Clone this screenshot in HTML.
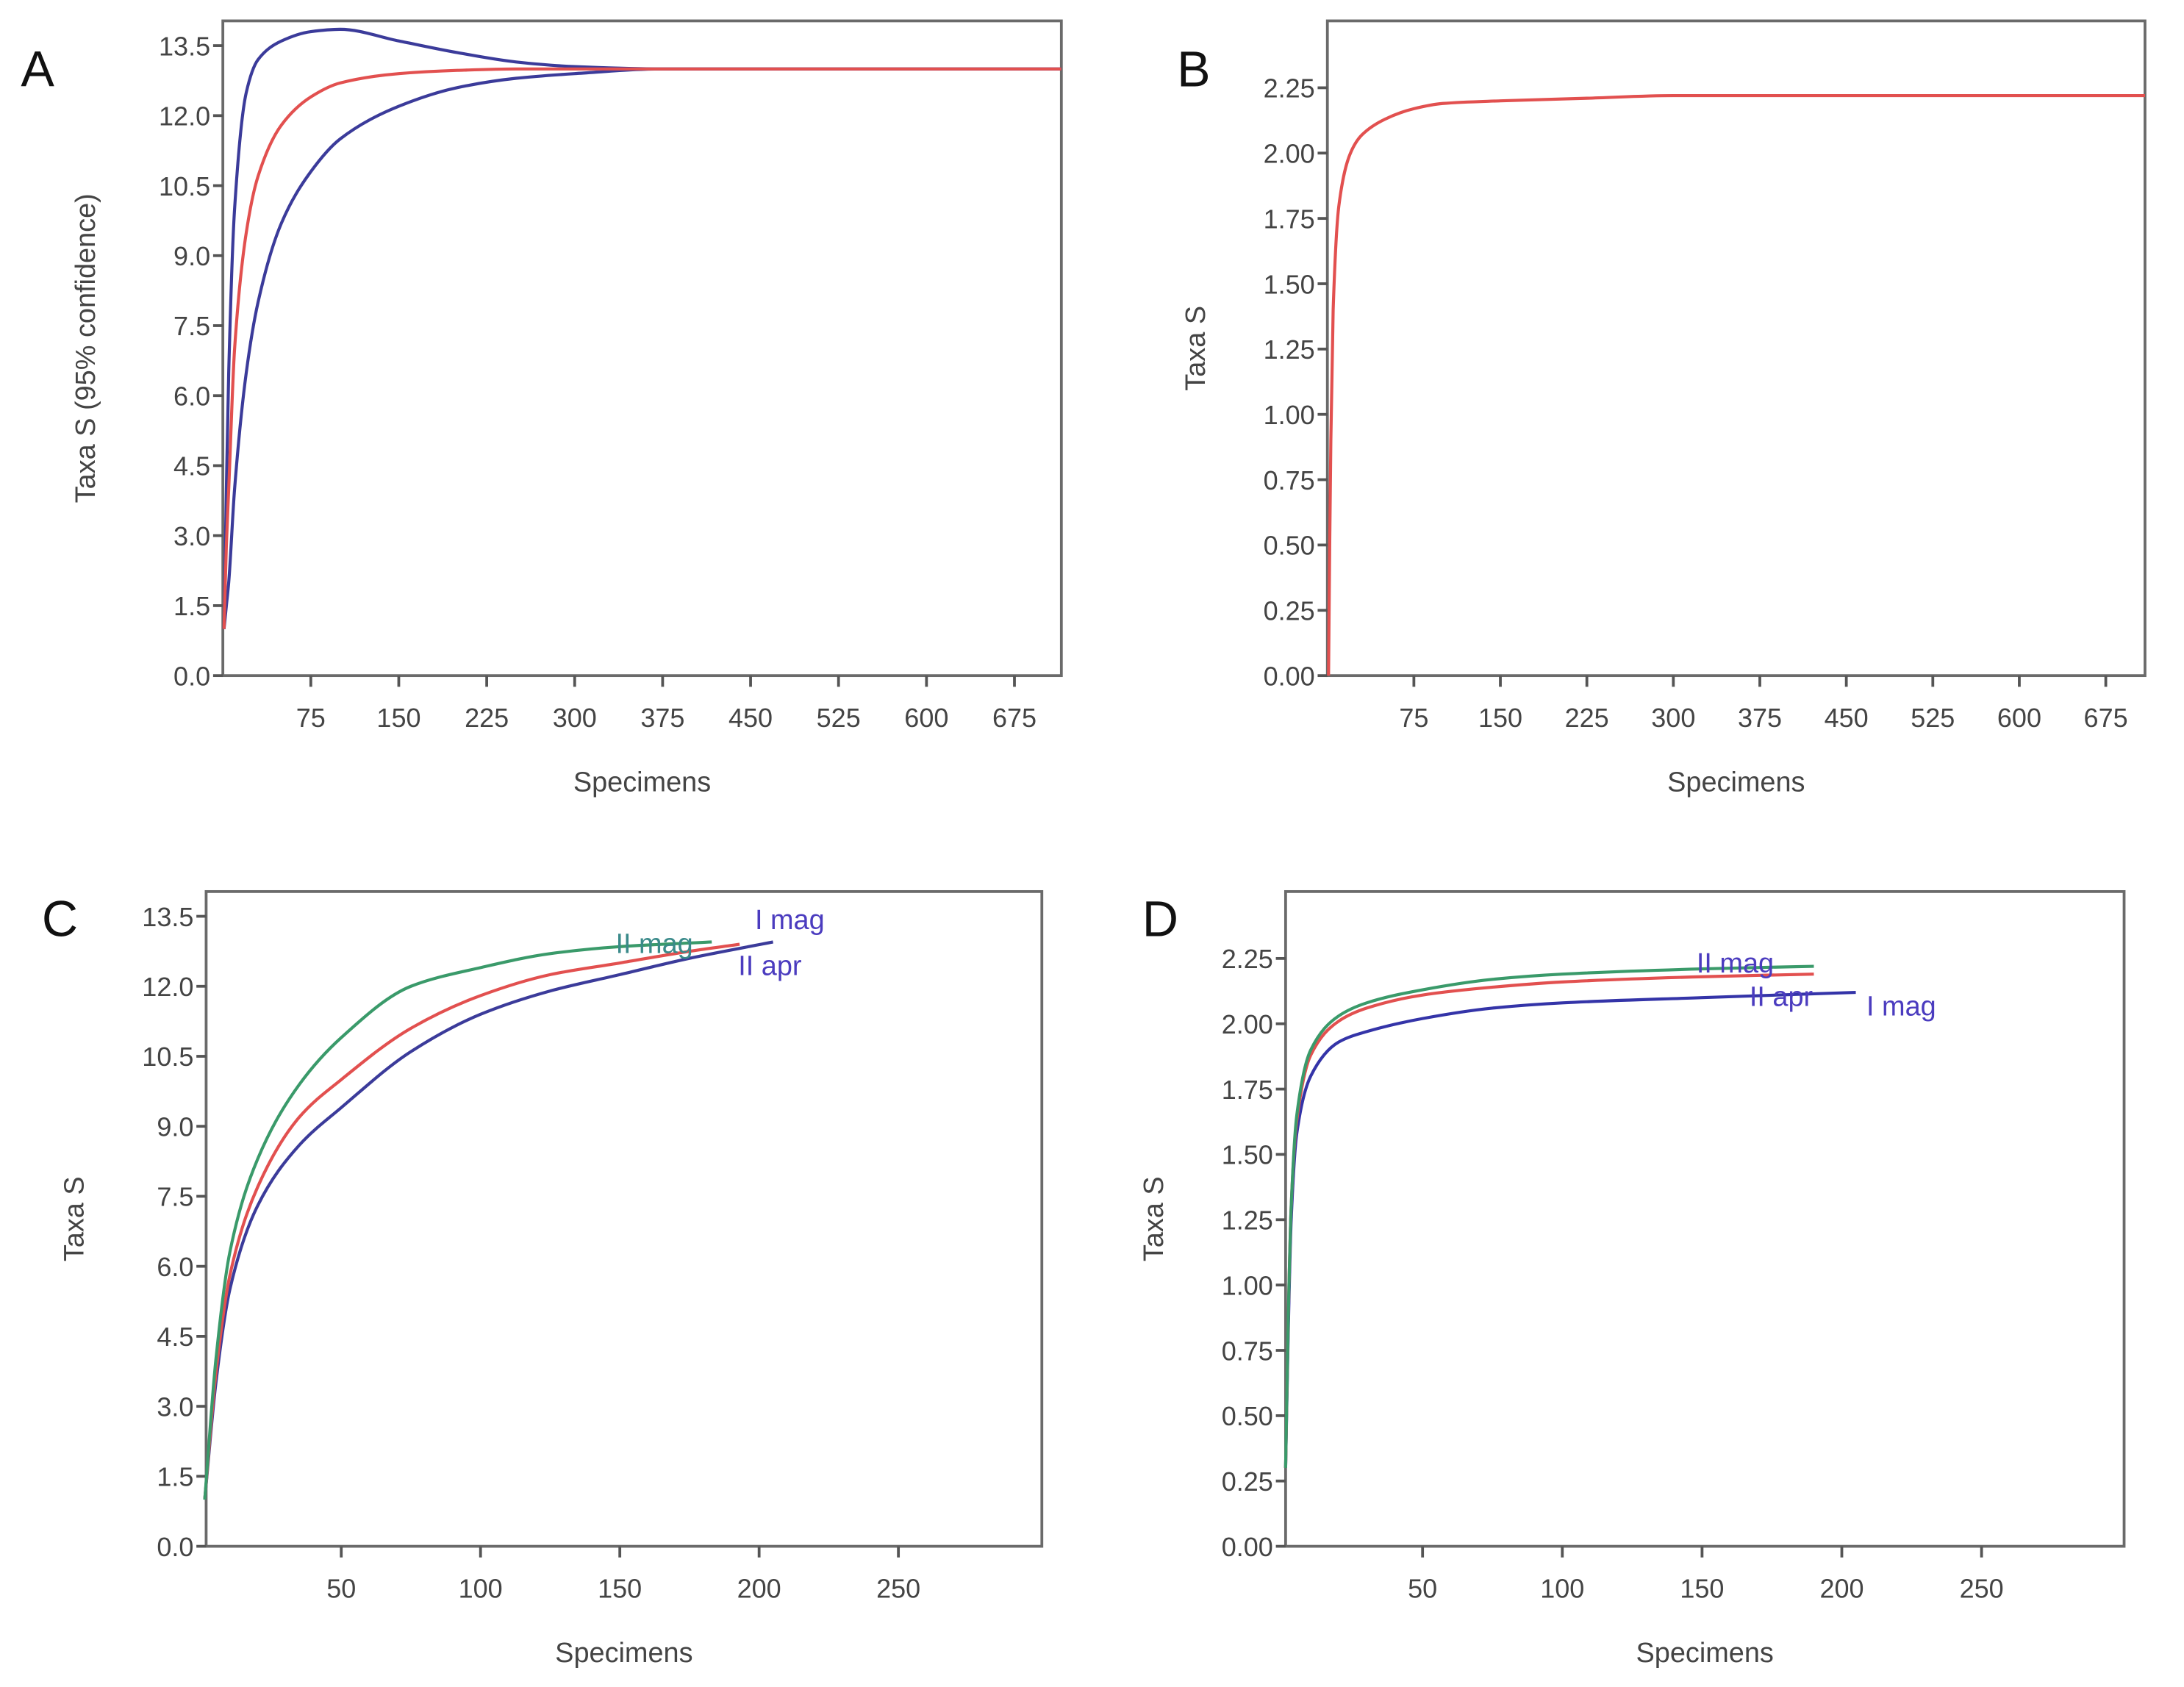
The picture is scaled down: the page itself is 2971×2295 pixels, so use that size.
<!DOCTYPE html>
<html><head><meta charset="utf-8"><style>
html,body{margin:0;padding:0;background:#fff}
svg{display:block}
text{font-family:"Liberation Sans",sans-serif}
</style></head><body>
<svg id="fig" width="2971" height="2295" viewBox="0 0 1568 1211" preserveAspectRatio="none" xmlns="http://www.w3.org/2000/svg"></svg>
<script>
// Panel A data
const aX = [1,3,5,10,20,30,50,75,100,150,200,250,300,375,450,715];
const aMean = [1,2.8,4,7,9.5,10.7,11.8,12.4,12.7,12.9,12.97,13,13,13,13,13];
const aUpper = [1,4,6.5,10,12.5,13.2,13.6,13.8,13.85,13.6,13.35,13.15,13.05,13,13,13];
const aLower = [1,1.5,2,4,6.5,8,9.7,10.8,11.5,12.2,12.6,12.8,12.9,13,13,13];
const aYTicks = [0,1.5,3,4.5,6,7.5,9,10.5,12,13.5];
const aXTicks = [75,150,225,300,375,450,525,600,675];
// Panel B data
const bX = [1,2,3,5,10,20,30,50,75,100,150,225,300,450,709];
const bY = [0,0.5,0.9,1.4,1.8,2.0,2.07,2.13,2.17,2.19,2.2,2.21,2.22,2.22,2.22];
const bYTicks = [0,0.25,0.5,0.75,1,1.25,1.5,1.75,2,2.25];
const bXTicks = [75,150,225,300,375,450,525,600,675];
// Panel C data
const cX = [1,5,10,20,35,50,75,100,125,150,183];
const cGreen = [1,4,6.3,8.3,9.9,10.9,12.0,12.4,12.7,12.85,12.95];
const cRedX = [1,5,10,20,35,50,75,100,125,150,175,193];
const cRed = [1,3.7,5.8,7.7,9.2,10.0,11.1,11.8,12.25,12.5,12.75,12.9];
const cBlueX = [1,5,10,20,35,50,75,100,125,150,175,205];
const cBlue = [1,3.5,5.5,7.3,8.6,9.4,10.6,11.4,11.9,12.25,12.6,12.95];
const cYTicks = [0,1.5,3,4.5,6,7.5,9,10.5,12,13.5];
const cXTicks = [50,100,150,200,250];
// Panel D data
const dX = [1,2,3,5,10,20,30,50,75,100,150,190];
const dGreen = [0.3,0.9,1.3,1.65,1.9,2.03,2.08,2.13,2.17,2.19,2.21,2.22];
const dRed = [0.3,0.9,1.3,1.63,1.88,2.01,2.06,2.11,2.14,2.16,2.18,2.19];
const dBlueX = [1,2,3,5,10,20,30,50,75,100,150,205];
const dBlue = [0.3,0.85,1.25,1.58,1.8,1.93,1.97,2.02,2.06,2.08,2.1,2.12];
const dYTicks = [0,0.25,0.5,0.75,1,1.25,1.5,1.75,2,2.25];
const dXTicks = [50,100,150,200,250];

const NS='http://www.w3.org/2000/svg';
const svg=document.getElementById('fig');
function mk(tag,attrs,parent){const e=document.createElementNS(NS,tag);for(const k in attrs)e.setAttribute(k,attrs[k]);(parent||svg).appendChild(e);return e;}

function monotonePath(px,py){
  const n=px.length;
  if(n<2)return '';
  const d=[],m=new Array(n);
  for(let i=0;i<n-1;i++)d.push((py[i+1]-py[i])/(px[i+1]-px[i]));
  m[0]=d[0];m[n-1]=d[n-2];
  for(let i=1;i<n-1;i++){
    if(d[i-1]*d[i]<=0)m[i]=0;
    else{const w1=2*(px[i+1]-px[i])+(px[i]-px[i-1]),w2=(px[i+1]-px[i])+2*(px[i]-px[i-1]);
      m[i]=(w1+w2)/(w1/d[i-1]+w2/d[i]);}
  }
  let s='M'+px[0].toFixed(2)+' '+py[0].toFixed(2);
  for(let i=0;i<n-1;i++){
    const h=(px[i+1]-px[i])/3;
    s+=' C'+(px[i]+h).toFixed(2)+' '+(py[i]+m[i]*h).toFixed(2)+' '+(px[i+1]-h).toFixed(2)+' '+(py[i+1]-m[i+1]*h).toFixed(2)+' '+px[i+1].toFixed(2)+' '+py[i+1].toFixed(2);
  }
  return s;
}

function panel(p){
  const g=mk('g',{});
  
  
  const sx=v=>p.L+(v-p.x0)*(p.R-p.L)/(p.x1-p.x0);
  const sy=v=>p.B-(v-p.y0)*(p.B-p.T)/(p.y1-p.y0);
  const frame=mk('rect',{x:p.L,y:p.T,width:p.R-p.L,height:p.B-p.T,fill:'none',stroke:'#6a6a6a','stroke-width':2},g);
  
  
  const lt=mk('text',{x:p.lx,y:p.ly,'font-size':36,fill:'#111'},g);lt.textContent=p.id;
  
  
  p.yt.forEach(v=>{
    const y=sy(v);
    mk('line',{x1:p.L-7,x2:p.L,y1:y,y2:y,stroke:'#555','stroke-width':2},g);
    const t=mk('text',{x:p.L-9,y:y+7,'font-size':19,'text-anchor':'end',fill:'#444'},g);
    t.textContent=v.toFixed(p.yd);
    
    
  });
  p.xt.forEach(v=>{
    const x=sx(v);
    mk('line',{x1:x,x2:x,y1:p.B,y2:p.B+8,stroke:'#555','stroke-width':2},g);
    const t=mk('text',{x:x,y:p.B+37,'font-size':19,'text-anchor':'middle',fill:'#444'},g);
    t.textContent=v;
    
    
  });
  const xt=mk('text',{x:(p.L+p.R)/2,y:p.B+83,'font-size':20,'text-anchor':'middle',fill:'#444'},g);
  xt.textContent='Specimens';
  
  
  const yx=p.L-p.ytOff, yy=(p.T+p.B)/2;
  const yt=mk('text',{x:yx,y:yy,'font-size':20,'text-anchor':'middle',fill:'#444',transform:`rotate(-90 ${yx} ${yy})`},g);
  yt.textContent=p.ytitle;
  
  
  p.series.forEach(s=>{
    const d=monotonePath(s.x.map(sx),s.y.map(sy));
    const path=mk('path',{d:d,fill:'none',stroke:s.c,'stroke-width':2.2,'stroke-linejoin':'round'},g);
    
    
  });
  (p.labels||[]).forEach(l=>{
    const t=mk('text',{x:l.x,y:l.y,'font-size':20,fill:l.c},g);
    t.textContent=l.t;
    
    
  });
}

panel({id:'A',L:160,R:762,T:15,B:485,x0:0,x1:715,y0:0,y1:14.03,yt:aYTicks,yd:1,xt:aXTicks,lx:15,ly:62,ytOff:92,ytitle:'Taxa S (95% confidence)',
  series:[{x:aX,y:aLower,c:'#3b3b9a',n:'lower-confidence-line'},{x:aX,y:aUpper,c:'#3b3b9a',n:'upper-confidence-line'},{x:aX,y:aMean,c:'#e2504f',n:'mean-rarefaction-line'}]});
panel({id:'B',L:953,R:1540,T:15,B:485,x0:0,x1:709,y0:0,y1:2.506,yt:bYTicks,yd:2,xt:bXTicks,lx:845,ly:62,ytOff:88,ytitle:'Taxa S',
  series:[{x:bX,y:bY,c:'#e2504f',n:'rarefaction-line'}]});
panel({id:'C',L:148,R:748,T:640,B:1110,x0:1.5,x1:301.5,y0:0,y1:14.03,yt:cYTicks,yd:1,xt:cXTicks,lx:30,ly:672,ytOff:88,ytitle:'Taxa S',
  series:[{x:cBlueX,y:cBlue,c:'#3b3b9a',n:'i-mag-line'},{x:cRedX,y:cRed,c:'#e2504f',n:'ii-apr-line'},{x:cX,y:cGreen,c:'#3a9a6a',n:'ii-mag-line'}],
  labels:[{x:542,y:667,t:'I mag',c:'#4b3cbf'},{x:442,y:684,t:'II mag',c:'#3a8a8a'},{x:530,y:700,t:'II apr',c:'#4b3cbf'}]});
panel({id:'D',L:923,R:1525,T:640,B:1110,x0:1,x1:301,y0:0,y1:2.506,yt:dYTicks,yd:2,xt:dXTicks,lx:820,ly:672,ytOff:88,ytitle:'Taxa S',
  series:[{x:dBlueX,y:dBlue,c:'#3434a8',n:'i-mag-line'},{x:dX,y:dRed,c:'#e2504f',n:'ii-apr-line'},{x:dX,y:dGreen,c:'#3a9a6a',n:'ii-mag-line'}],
  labels:[{x:1218,y:698,t:'II mag',c:'#4b3cbf'},{x:1256,y:722,t:'II apr',c:'#4b3cbf'},{x:1340,y:729,t:'I mag',c:'#4b3cbf'}]});
</script>
</body></html>
